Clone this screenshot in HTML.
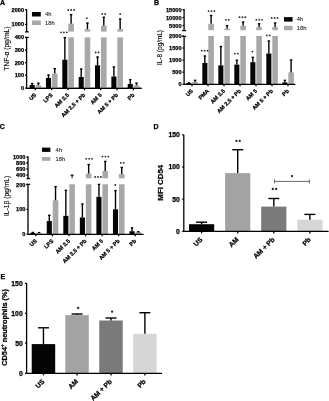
<!DOCTYPE html>
<html><head><meta charset="utf-8"><style>
html,body{margin:0;padding:0;background:#fff;}
svg{display:block;font-family:"Liberation Sans", sans-serif;filter:grayscale(100%);}
</style></head><body>
<svg width="329" height="401" viewBox="0 0 329 401" font-family='"Liberation Sans", sans-serif'>
<rect width="329" height="401" fill="#fff"/>
<text x="0" y="5.0" font-size="7" font-weight="bold" text-anchor="start" fill="#000" stroke="#000" stroke-width="0.25">A</text>
<text x="8.6" y="48.6" font-size="6.6" font-weight="normal" text-anchor="middle" fill="#000" transform="rotate(-90 8.6 48.6)" stroke="#000" stroke-width="0.12" textLength="44.2" lengthAdjust="spacingAndGlyphs">TNF-α (pg/mL)</text>
<line x1="26.6" y1="9.5" x2="26.6" y2="31.6" stroke="#000" stroke-width="1.3"/>
<line x1="26.6" y1="37.4" x2="26.6" y2="88.3" stroke="#000" stroke-width="1.3"/>
<line x1="25.0" y1="9.7" x2="26.6" y2="9.7" stroke="#000" stroke-width="1.3"/>
<text x="24.0" y="11.7" font-size="5.6" font-weight="bold" text-anchor="end" fill="#000" stroke="#000" stroke-width="0.25">2000</text>
<line x1="25.0" y1="24.3" x2="26.6" y2="24.3" stroke="#000" stroke-width="1.3"/>
<text x="24.0" y="26.3" font-size="5.6" font-weight="bold" text-anchor="end" fill="#000" stroke="#000" stroke-width="0.25">1000</text>
<line x1="25.0" y1="37.4" x2="26.6" y2="37.4" stroke="#000" stroke-width="1.3"/>
<text x="24.0" y="39.4" font-size="5.6" font-weight="bold" text-anchor="end" fill="#000" stroke="#000" stroke-width="0.25">400</text>
<line x1="25.0" y1="50.1" x2="26.6" y2="50.1" stroke="#000" stroke-width="1.3"/>
<text x="24.0" y="52.1" font-size="5.6" font-weight="bold" text-anchor="end" fill="#000" stroke="#000" stroke-width="0.25">300</text>
<line x1="25.0" y1="62.7" x2="26.6" y2="62.7" stroke="#000" stroke-width="1.3"/>
<text x="24.0" y="64.7" font-size="5.6" font-weight="bold" text-anchor="end" fill="#000" stroke="#000" stroke-width="0.25">200</text>
<line x1="25.0" y1="75.4" x2="26.6" y2="75.4" stroke="#000" stroke-width="1.3"/>
<text x="24.0" y="77.4" font-size="5.6" font-weight="bold" text-anchor="end" fill="#000" stroke="#000" stroke-width="0.25">100</text>
<line x1="25.0" y1="88.2" x2="26.6" y2="88.2" stroke="#000" stroke-width="1.3"/>
<text x="24.0" y="90.2" font-size="5.6" font-weight="bold" text-anchor="end" fill="#000" stroke="#000" stroke-width="0.25">0</text>
<path d="M24.90 32.50 L28.90 32.50 L28.20 31.00 L25.60 31.00 Z" fill="#000"/>
<line x1="24.900000000000002" y1="37.4" x2="28.900000000000002" y2="37.4" stroke="#000" stroke-width="1.1"/>
<line x1="26.6" y1="88.3" x2="141.6" y2="88.3" stroke="#000" stroke-width="1.3"/>
<rect x="32.00" y="12.00" width="8.80" height="4.50" fill="#050505"/>
<text x="45" y="16.2" font-size="5.8" font-weight="normal" text-anchor="start" fill="#222" stroke="#222" stroke-width="0.08">4h</text>
<rect x="32.00" y="20.50" width="8.80" height="4.50" fill="#a8a8a8"/>
<text x="45" y="24.9" font-size="5.8" font-weight="normal" text-anchor="start" fill="#222" stroke="#222" stroke-width="0.08">18h</text>
<rect x="29.60" y="85.00" width="5.10" height="3.30" fill="#050505"/>
<line x1="32.15" y1="85.0" x2="32.15" y2="83.3" stroke="#000" stroke-width="1.4"/>
<line x1="30.9" y1="83.6" x2="33.4" y2="83.6" stroke="#000" stroke-width="1.3"/>
<rect x="35.60" y="85.30" width="5.60" height="3.00" fill="#a8a8a8"/>
<line x1="38.39999999999999" y1="85.3" x2="38.39999999999999" y2="82.9" stroke="#000" stroke-width="1.4"/>
<line x1="37.14999999999999" y1="83.2" x2="39.64999999999999" y2="83.2" stroke="#000" stroke-width="1.3"/>
<rect x="45.95" y="78.00" width="5.10" height="10.30" fill="#050505"/>
<line x1="48.5" y1="78" x2="48.5" y2="74.7" stroke="#000" stroke-width="1.4"/>
<line x1="47.25" y1="75" x2="49.75" y2="75" stroke="#000" stroke-width="1.3"/>
<rect x="51.95" y="73.60" width="5.60" height="14.70" fill="#a8a8a8"/>
<line x1="54.75" y1="73.6" x2="54.75" y2="68.3" stroke="#000" stroke-width="1.4"/>
<line x1="53.5" y1="68.6" x2="56.0" y2="68.6" stroke="#000" stroke-width="1.3"/>
<rect x="62.30" y="59.70" width="5.10" height="28.60" fill="#050505"/>
<line x1="64.85" y1="59.7" x2="64.85" y2="37.300000000000004" stroke="#000" stroke-width="1.4"/>
<line x1="63.599999999999994" y1="37.6" x2="66.1" y2="37.6" stroke="#000" stroke-width="1.3"/>
<rect x="68.30" y="37.40" width="5.60" height="50.90" fill="#a8a8a8"/>
<rect x="68.30" y="23.70" width="5.60" height="7.90" fill="#a8a8a8"/>
<line x1="71.1" y1="23.7" x2="71.1" y2="14.299999999999999" stroke="#000" stroke-width="1.4"/>
<line x1="69.85" y1="14.6" x2="72.35" y2="14.6" stroke="#000" stroke-width="1.3"/>
<rect x="78.65" y="77.00" width="5.10" height="11.30" fill="#050505"/>
<line x1="81.19999999999999" y1="77" x2="81.19999999999999" y2="68.7" stroke="#000" stroke-width="1.4"/>
<line x1="79.94999999999999" y1="69" x2="82.44999999999999" y2="69" stroke="#000" stroke-width="1.3"/>
<rect x="84.65" y="37.40" width="5.60" height="50.90" fill="#a8a8a8"/>
<rect x="84.65" y="29.20" width="5.60" height="2.40" fill="#a8a8a8"/>
<line x1="87.44999999999999" y1="29.2" x2="87.44999999999999" y2="22.8" stroke="#000" stroke-width="1.4"/>
<line x1="86.19999999999999" y1="23.1" x2="88.69999999999999" y2="23.1" stroke="#000" stroke-width="1.3"/>
<rect x="95.00" y="65.30" width="5.10" height="23.00" fill="#050505"/>
<line x1="97.55000000000001" y1="65.3" x2="97.55000000000001" y2="56.7" stroke="#000" stroke-width="1.4"/>
<line x1="96.30000000000001" y1="57" x2="98.80000000000001" y2="57" stroke="#000" stroke-width="1.3"/>
<rect x="101.00" y="37.40" width="5.60" height="50.90" fill="#a8a8a8"/>
<rect x="101.00" y="25.70" width="5.60" height="5.90" fill="#a8a8a8"/>
<line x1="103.80000000000001" y1="25.7" x2="103.80000000000001" y2="16.9" stroke="#000" stroke-width="1.4"/>
<line x1="102.55000000000001" y1="17.2" x2="105.05000000000001" y2="17.2" stroke="#000" stroke-width="1.3"/>
<rect x="111.35" y="76.50" width="5.10" height="11.80" fill="#050505"/>
<line x1="113.9" y1="76.5" x2="113.9" y2="66.7" stroke="#000" stroke-width="1.4"/>
<line x1="112.65" y1="67" x2="115.15" y2="67" stroke="#000" stroke-width="1.3"/>
<rect x="117.35" y="37.40" width="5.60" height="50.90" fill="#a8a8a8"/>
<rect x="117.35" y="29.10" width="5.60" height="2.50" fill="#a8a8a8"/>
<line x1="120.15" y1="29.1" x2="120.15" y2="18.7" stroke="#000" stroke-width="1.4"/>
<line x1="118.9" y1="19" x2="121.4" y2="19" stroke="#000" stroke-width="1.3"/>
<rect x="127.70" y="84.00" width="5.10" height="4.30" fill="#050505"/>
<line x1="130.25" y1="84.0" x2="130.25" y2="79.3" stroke="#000" stroke-width="1.4"/>
<line x1="129.0" y1="79.6" x2="131.5" y2="79.6" stroke="#000" stroke-width="1.3"/>
<rect x="133.70" y="85.20" width="5.60" height="3.10" fill="#a8a8a8"/>
<line x1="136.5" y1="85.2" x2="136.5" y2="82.8" stroke="#000" stroke-width="1.4"/>
<line x1="135.25" y1="83.1" x2="137.75" y2="83.1" stroke="#000" stroke-width="1.3"/>
<line x1="26.6" y1="88.3" x2="141.6" y2="88.3" stroke="#000" stroke-width="1.3"/>
<line x1="35.3" y1="88.3" x2="35.3" y2="90.3" stroke="#000" stroke-width="1.3"/>
<line x1="51.65" y1="88.3" x2="51.65" y2="90.3" stroke="#000" stroke-width="1.3"/>
<line x1="68.0" y1="88.3" x2="68.0" y2="90.3" stroke="#000" stroke-width="1.3"/>
<line x1="84.35" y1="88.3" x2="84.35" y2="90.3" stroke="#000" stroke-width="1.3"/>
<line x1="100.7" y1="88.3" x2="100.7" y2="90.3" stroke="#000" stroke-width="1.3"/>
<line x1="117.05" y1="88.3" x2="117.05" y2="90.3" stroke="#000" stroke-width="1.3"/>
<line x1="133.4" y1="88.3" x2="133.4" y2="90.3" stroke="#000" stroke-width="1.3"/>
<text x="36.7" y="95.4" font-size="5.55" font-weight="bold" text-anchor="end" fill="#000" transform="rotate(-45 36.7 95.4)" stroke="#000" stroke-width="0.25">US</text>
<text x="53.05" y="95.4" font-size="5.55" font-weight="bold" text-anchor="end" fill="#000" transform="rotate(-45 53.05 95.4)" stroke="#000" stroke-width="0.25">LPS</text>
<text x="69.4" y="95.4" font-size="5.55" font-weight="bold" text-anchor="end" fill="#000" transform="rotate(-45 69.4 95.4)" stroke="#000" stroke-width="0.25">AM 2.5</text>
<text x="85.75" y="95.4" font-size="5.55" font-weight="bold" text-anchor="end" fill="#000" transform="rotate(-45 85.75 95.4)" stroke="#000" stroke-width="0.25">AM 2.5 + Pb</text>
<text x="102.1" y="95.4" font-size="5.55" font-weight="bold" text-anchor="end" fill="#000" transform="rotate(-45 102.1 95.4)" stroke="#000" stroke-width="0.25">AM 5</text>
<text x="118.45" y="95.4" font-size="5.55" font-weight="bold" text-anchor="end" fill="#000" transform="rotate(-45 118.45 95.4)" stroke="#000" stroke-width="0.25">AM 5 + Pb</text>
<text x="134.8" y="95.4" font-size="5.55" font-weight="bold" text-anchor="end" fill="#000" transform="rotate(-45 134.8 95.4)" stroke="#000" stroke-width="0.25">Pb</text>
<circle cx="61.00" cy="32.30" r="0.9" fill="#222"/>
<circle cx="63.90" cy="32.30" r="0.9" fill="#222"/>
<circle cx="66.80" cy="32.30" r="0.9" fill="#222"/>
<circle cx="68.30" cy="10.00" r="0.9" fill="#222"/>
<circle cx="71.20" cy="10.00" r="0.9" fill="#222"/>
<circle cx="74.10" cy="10.00" r="0.9" fill="#222"/>
<circle cx="86.90" cy="18.10" r="0.9" fill="#222"/>
<circle cx="95.65" cy="52.40" r="0.9" fill="#222"/>
<circle cx="98.55" cy="52.40" r="0.9" fill="#222"/>
<circle cx="102.25" cy="13.90" r="0.9" fill="#222"/>
<circle cx="105.15" cy="13.90" r="0.9" fill="#222"/>
<circle cx="120.20" cy="13.90" r="0.9" fill="#222"/>
<text x="154" y="5.1" font-size="7" font-weight="bold" text-anchor="start" fill="#000" stroke="#000" stroke-width="0.25">B</text>
<text x="161.6" y="47.5" font-size="6.4" font-weight="normal" text-anchor="middle" fill="#000" transform="rotate(-90 161.6 47.5)" stroke="#000" stroke-width="0.12" textLength="35" lengthAdjust="spacingAndGlyphs">IL-8 (pg/mL)</text>
<line x1="184.1" y1="9.1" x2="184.1" y2="30.6" stroke="#000" stroke-width="1.3"/>
<line x1="184.1" y1="36.4" x2="184.1" y2="84.3" stroke="#000" stroke-width="1.3"/>
<line x1="182.5" y1="9.7" x2="184.1" y2="9.7" stroke="#000" stroke-width="1.3"/>
<text x="181.5" y="11.7" font-size="5.6" font-weight="bold" text-anchor="end" fill="#000" stroke="#000" stroke-width="0.25">15000</text>
<line x1="182.5" y1="17.6" x2="184.1" y2="17.6" stroke="#000" stroke-width="1.3"/>
<text x="181.5" y="19.6" font-size="5.6" font-weight="bold" text-anchor="end" fill="#000" stroke="#000" stroke-width="0.25">10000</text>
<line x1="182.5" y1="25.5" x2="184.1" y2="25.5" stroke="#000" stroke-width="1.3"/>
<text x="181.5" y="27.5" font-size="5.6" font-weight="bold" text-anchor="end" fill="#000" stroke="#000" stroke-width="0.25">5000</text>
<line x1="182.5" y1="36" x2="184.1" y2="36" stroke="#000" stroke-width="1.3"/>
<text x="181.5" y="38.0" font-size="5.6" font-weight="bold" text-anchor="end" fill="#000" stroke="#000" stroke-width="0.25">2000</text>
<line x1="182.5" y1="48" x2="184.1" y2="48" stroke="#000" stroke-width="1.3"/>
<text x="181.5" y="50.0" font-size="5.6" font-weight="bold" text-anchor="end" fill="#000" stroke="#000" stroke-width="0.25">1500</text>
<line x1="182.5" y1="60.1" x2="184.1" y2="60.1" stroke="#000" stroke-width="1.3"/>
<text x="181.5" y="62.1" font-size="5.6" font-weight="bold" text-anchor="end" fill="#000" stroke="#000" stroke-width="0.25">1000</text>
<line x1="182.5" y1="72.2" x2="184.1" y2="72.2" stroke="#000" stroke-width="1.3"/>
<text x="181.5" y="74.2" font-size="5.6" font-weight="bold" text-anchor="end" fill="#000" stroke="#000" stroke-width="0.25">500</text>
<line x1="182.5" y1="84.3" x2="184.1" y2="84.3" stroke="#000" stroke-width="1.3"/>
<text x="181.5" y="86.3" font-size="5.6" font-weight="bold" text-anchor="end" fill="#000" stroke="#000" stroke-width="0.25">0</text>
<line x1="182.1" y1="30.6" x2="186.1" y2="30.6" stroke="#000" stroke-width="1.2"/>
<line x1="182.1" y1="36.4" x2="186.1" y2="36.4" stroke="#000" stroke-width="1.2"/>
<rect x="284.00" y="17.10" width="8.60" height="4.50" fill="#050505"/>
<text x="296.8" y="20.9" font-size="5.8" font-weight="normal" text-anchor="start" fill="#222" stroke="#222" stroke-width="0.08">4h</text>
<rect x="284.00" y="25.80" width="8.60" height="4.50" fill="#a8a8a8"/>
<text x="296.8" y="29.7" font-size="5.8" font-weight="normal" text-anchor="start" fill="#222" stroke="#222" stroke-width="0.08">18h</text>
<rect x="186.30" y="83.10" width="5.10" height="1.20" fill="#050505"/>
<line x1="188.85000000000002" y1="83.1" x2="188.85000000000002" y2="82.60000000000001" stroke="#000" stroke-width="1.4"/>
<line x1="187.60000000000002" y1="82.9" x2="190.10000000000002" y2="82.9" stroke="#000" stroke-width="1.3"/>
<rect x="192.30" y="82.00" width="5.60" height="2.30" fill="#a8a8a8"/>
<line x1="195.10000000000002" y1="82.0" x2="195.10000000000002" y2="80.0" stroke="#000" stroke-width="1.4"/>
<line x1="193.85000000000002" y1="80.3" x2="196.35000000000002" y2="80.3" stroke="#000" stroke-width="1.3"/>
<rect x="202.30" y="63.00" width="5.10" height="21.30" fill="#050505"/>
<line x1="204.85000000000002" y1="63" x2="204.85000000000002" y2="55.7" stroke="#000" stroke-width="1.4"/>
<line x1="203.60000000000002" y1="56" x2="206.10000000000002" y2="56" stroke="#000" stroke-width="1.3"/>
<rect x="208.30" y="35.90" width="5.60" height="48.40" fill="#a8a8a8"/>
<rect x="208.30" y="23.80" width="5.60" height="6.40" fill="#a8a8a8"/>
<line x1="211.10000000000002" y1="23.8" x2="211.10000000000002" y2="15.2" stroke="#000" stroke-width="1.4"/>
<line x1="209.85000000000002" y1="15.5" x2="212.35000000000002" y2="15.5" stroke="#000" stroke-width="1.3"/>
<rect x="218.30" y="65.40" width="5.10" height="18.90" fill="#050505"/>
<line x1="220.85000000000002" y1="65.4" x2="220.85000000000002" y2="46.2" stroke="#000" stroke-width="1.4"/>
<line x1="219.60000000000002" y1="46.5" x2="222.10000000000002" y2="46.5" stroke="#000" stroke-width="1.3"/>
<rect x="224.30" y="35.90" width="5.60" height="48.40" fill="#a8a8a8"/>
<rect x="224.30" y="28.50" width="5.60" height="1.70" fill="#a8a8a8"/>
<line x1="227.10000000000002" y1="28.5" x2="227.10000000000002" y2="25.3" stroke="#000" stroke-width="1.4"/>
<line x1="225.85000000000002" y1="25.6" x2="228.35000000000002" y2="25.6" stroke="#000" stroke-width="1.3"/>
<rect x="234.30" y="64.60" width="5.10" height="19.70" fill="#050505"/>
<line x1="236.85000000000002" y1="64.6" x2="236.85000000000002" y2="59.900000000000006" stroke="#000" stroke-width="1.4"/>
<line x1="235.60000000000002" y1="60.2" x2="238.10000000000002" y2="60.2" stroke="#000" stroke-width="1.3"/>
<rect x="240.30" y="35.90" width="5.60" height="48.40" fill="#a8a8a8"/>
<rect x="240.30" y="25.80" width="5.60" height="4.40" fill="#a8a8a8"/>
<line x1="243.10000000000002" y1="25.8" x2="243.10000000000002" y2="21.7" stroke="#000" stroke-width="1.4"/>
<line x1="241.85000000000002" y1="22" x2="244.35000000000002" y2="22" stroke="#000" stroke-width="1.3"/>
<rect x="250.30" y="62.20" width="5.10" height="22.10" fill="#050505"/>
<line x1="252.85000000000002" y1="62.2" x2="252.85000000000002" y2="57.0" stroke="#000" stroke-width="1.4"/>
<line x1="251.60000000000002" y1="57.3" x2="254.10000000000002" y2="57.3" stroke="#000" stroke-width="1.3"/>
<rect x="256.30" y="35.90" width="5.60" height="48.40" fill="#a8a8a8"/>
<rect x="256.30" y="27.00" width="5.60" height="3.20" fill="#a8a8a8"/>
<line x1="259.1" y1="27" x2="259.1" y2="23.5" stroke="#000" stroke-width="1.4"/>
<line x1="257.85" y1="23.8" x2="260.35" y2="23.8" stroke="#000" stroke-width="1.3"/>
<rect x="266.30" y="53.50" width="5.10" height="30.80" fill="#050505"/>
<line x1="268.85" y1="53.5" x2="268.85" y2="40.7" stroke="#000" stroke-width="1.4"/>
<line x1="267.6" y1="41" x2="270.1" y2="41" stroke="#000" stroke-width="1.3"/>
<rect x="272.30" y="35.90" width="5.60" height="48.40" fill="#a8a8a8"/>
<rect x="272.30" y="27.00" width="5.60" height="3.20" fill="#a8a8a8"/>
<line x1="275.1" y1="27" x2="275.1" y2="22.7" stroke="#000" stroke-width="1.4"/>
<line x1="273.85" y1="23" x2="276.35" y2="23" stroke="#000" stroke-width="1.3"/>
<rect x="282.30" y="82.40" width="5.10" height="1.90" fill="#050505"/>
<line x1="284.85" y1="82.4" x2="284.85" y2="80.0" stroke="#000" stroke-width="1.4"/>
<line x1="283.6" y1="80.3" x2="286.1" y2="80.3" stroke="#000" stroke-width="1.3"/>
<rect x="288.30" y="72.40" width="5.60" height="11.90" fill="#a8a8a8"/>
<line x1="291.1" y1="72.4" x2="291.1" y2="59.7" stroke="#000" stroke-width="1.4"/>
<line x1="289.85" y1="60" x2="292.35" y2="60" stroke="#000" stroke-width="1.3"/>
<line x1="184.1" y1="84.3" x2="295.4" y2="84.3" stroke="#000" stroke-width="1.3"/>
<line x1="192" y1="84.3" x2="192" y2="86.3" stroke="#000" stroke-width="1.3"/>
<line x1="208" y1="84.3" x2="208" y2="86.3" stroke="#000" stroke-width="1.3"/>
<line x1="224" y1="84.3" x2="224" y2="86.3" stroke="#000" stroke-width="1.3"/>
<line x1="240" y1="84.3" x2="240" y2="86.3" stroke="#000" stroke-width="1.3"/>
<line x1="256" y1="84.3" x2="256" y2="86.3" stroke="#000" stroke-width="1.3"/>
<line x1="272" y1="84.3" x2="272" y2="86.3" stroke="#000" stroke-width="1.3"/>
<line x1="288" y1="84.3" x2="288" y2="86.3" stroke="#000" stroke-width="1.3"/>
<text x="193.4" y="91.4" font-size="5.55" font-weight="bold" text-anchor="end" fill="#000" transform="rotate(-45 193.4 91.4)" stroke="#000" stroke-width="0.25">US</text>
<text x="209.4" y="91.4" font-size="5.55" font-weight="bold" text-anchor="end" fill="#000" transform="rotate(-45 209.4 91.4)" stroke="#000" stroke-width="0.25">PMA</text>
<text x="225.4" y="91.4" font-size="5.55" font-weight="bold" text-anchor="end" fill="#000" transform="rotate(-45 225.4 91.4)" stroke="#000" stroke-width="0.25">AM 2.5</text>
<text x="241.4" y="91.4" font-size="5.55" font-weight="bold" text-anchor="end" fill="#000" transform="rotate(-45 241.4 91.4)" stroke="#000" stroke-width="0.25">AM 2.5 + Pb</text>
<text x="257.4" y="91.4" font-size="5.55" font-weight="bold" text-anchor="end" fill="#000" transform="rotate(-45 257.4 91.4)" stroke="#000" stroke-width="0.25">AM 5</text>
<text x="273.4" y="91.4" font-size="5.55" font-weight="bold" text-anchor="end" fill="#000" transform="rotate(-45 273.4 91.4)" stroke="#000" stroke-width="0.25">AM 5 + Pb</text>
<text x="289.4" y="91.4" font-size="5.55" font-weight="bold" text-anchor="end" fill="#000" transform="rotate(-45 289.4 91.4)" stroke="#000" stroke-width="0.25">Pb</text>
<circle cx="201.70" cy="50.70" r="0.9" fill="#222"/>
<circle cx="204.60" cy="50.70" r="0.9" fill="#222"/>
<circle cx="207.50" cy="50.70" r="0.9" fill="#222"/>
<circle cx="208.60" cy="11.10" r="0.9" fill="#222"/>
<circle cx="211.50" cy="11.10" r="0.9" fill="#222"/>
<circle cx="214.40" cy="11.10" r="0.9" fill="#222"/>
<circle cx="225.85" cy="19.80" r="0.9" fill="#222"/>
<circle cx="228.75" cy="19.80" r="0.9" fill="#222"/>
<circle cx="234.95" cy="53.60" r="0.9" fill="#222"/>
<circle cx="237.85" cy="53.60" r="0.9" fill="#222"/>
<circle cx="239.50" cy="17.20" r="0.9" fill="#222"/>
<circle cx="242.40" cy="17.20" r="0.9" fill="#222"/>
<circle cx="245.30" cy="17.20" r="0.9" fill="#222"/>
<circle cx="252.40" cy="51.60" r="0.9" fill="#222"/>
<circle cx="256.30" cy="19.80" r="0.9" fill="#222"/>
<circle cx="259.20" cy="19.80" r="0.9" fill="#222"/>
<circle cx="262.10" cy="19.80" r="0.9" fill="#222"/>
<circle cx="266.85" cy="35.40" r="0.9" fill="#222"/>
<circle cx="269.75" cy="35.40" r="0.9" fill="#222"/>
<circle cx="271.70" cy="17.90" r="0.9" fill="#222"/>
<circle cx="274.60" cy="17.90" r="0.9" fill="#222"/>
<circle cx="277.50" cy="17.90" r="0.9" fill="#222"/>
<text x="-0.2" y="129.1" font-size="7" font-weight="bold" text-anchor="start" fill="#000" stroke="#000" stroke-width="0.25">C</text>
<text x="9.2" y="195.9" font-size="6.5" font-weight="normal" text-anchor="middle" fill="#000" transform="rotate(-90 9.2 195.9)" stroke="#000" stroke-width="0.12" textLength="40.2" lengthAdjust="spacingAndGlyphs">IL-1β (pg/mL)</text>
<line x1="28.0" y1="156.2" x2="28.0" y2="178.3" stroke="#000" stroke-width="1.3"/>
<line x1="28.0" y1="184.3" x2="28.0" y2="234.3" stroke="#000" stroke-width="1.3"/>
<line x1="26.4" y1="157.1" x2="28.0" y2="157.1" stroke="#000" stroke-width="1.3"/>
<text x="25.4" y="159.1" font-size="5.6" font-weight="bold" text-anchor="end" fill="#000" stroke="#000" stroke-width="0.25">1000</text>
<line x1="26.4" y1="163" x2="28.0" y2="163" stroke="#000" stroke-width="1.3"/>
<text x="25.4" y="165.0" font-size="5.6" font-weight="bold" text-anchor="end" fill="#000" stroke="#000" stroke-width="0.25">800</text>
<line x1="26.4" y1="168.8" x2="28.0" y2="168.8" stroke="#000" stroke-width="1.3"/>
<text x="25.4" y="170.8" font-size="5.6" font-weight="bold" text-anchor="end" fill="#000" stroke="#000" stroke-width="0.25">600</text>
<line x1="26.4" y1="175.2" x2="28.0" y2="175.2" stroke="#000" stroke-width="1.3"/>
<text x="25.4" y="177.2" font-size="5.6" font-weight="bold" text-anchor="end" fill="#000" stroke="#000" stroke-width="0.25">400</text>
<line x1="26.4" y1="184.5" x2="28.0" y2="184.5" stroke="#000" stroke-width="1.3"/>
<text x="25.4" y="186.5" font-size="5.6" font-weight="bold" text-anchor="end" fill="#000" stroke="#000" stroke-width="0.25">200</text>
<line x1="26.4" y1="209.4" x2="28.0" y2="209.4" stroke="#000" stroke-width="1.3"/>
<text x="25.4" y="211.4" font-size="5.6" font-weight="bold" text-anchor="end" fill="#000" stroke="#000" stroke-width="0.25">100</text>
<line x1="26.4" y1="234.2" x2="28.0" y2="234.2" stroke="#000" stroke-width="1.3"/>
<text x="25.4" y="236.2" font-size="5.6" font-weight="bold" text-anchor="end" fill="#000" stroke="#000" stroke-width="0.25">0</text>
<path d="M26.30 179.20 L30.30 179.20 L29.60 177.70 L27.00 177.70 Z" fill="#000"/>
<line x1="26.3" y1="184.3" x2="30.3" y2="184.3" stroke="#000" stroke-width="1.1"/>
<rect x="42.00" y="147.60" width="8.40" height="4.30" fill="#050505"/>
<text x="55.6" y="151.6" font-size="5.8" font-weight="normal" text-anchor="start" fill="#222" stroke="#222" stroke-width="0.08">4h</text>
<rect x="42.00" y="157.00" width="8.40" height="3.80" fill="#a8a8a8"/>
<text x="55.6" y="160.8" font-size="5.8" font-weight="normal" text-anchor="start" fill="#222" stroke="#222" stroke-width="0.08">18h</text>
<rect x="30.20" y="232.90" width="5.10" height="1.40" fill="#050505"/>
<line x1="32.75" y1="232.9" x2="32.75" y2="232.1" stroke="#000" stroke-width="1.4"/>
<line x1="31.5" y1="232.4" x2="34.0" y2="232.4" stroke="#000" stroke-width="1.3"/>
<rect x="36.20" y="233.10" width="5.60" height="1.20" fill="#a8a8a8"/>
<line x1="39.0" y1="233.1" x2="39.0" y2="232.29999999999998" stroke="#000" stroke-width="1.4"/>
<line x1="37.75" y1="232.6" x2="40.25" y2="232.6" stroke="#000" stroke-width="1.3"/>
<rect x="46.75" y="221.00" width="5.10" height="13.30" fill="#050505"/>
<line x1="49.3" y1="221" x2="49.3" y2="215.0" stroke="#000" stroke-width="1.4"/>
<line x1="48.05" y1="215.3" x2="50.55" y2="215.3" stroke="#000" stroke-width="1.3"/>
<rect x="52.75" y="200.30" width="5.60" height="34.00" fill="#a8a8a8"/>
<line x1="55.55" y1="200.3" x2="55.55" y2="186.39999999999998" stroke="#000" stroke-width="1.4"/>
<line x1="54.3" y1="186.7" x2="56.8" y2="186.7" stroke="#000" stroke-width="1.3"/>
<rect x="63.30" y="215.80" width="5.10" height="18.50" fill="#050505"/>
<line x1="65.85" y1="215.8" x2="65.85" y2="190.0" stroke="#000" stroke-width="1.4"/>
<line x1="64.6" y1="190.3" x2="67.1" y2="190.3" stroke="#000" stroke-width="1.3"/>
<rect x="69.30" y="184.30" width="5.60" height="50.00" fill="#a8a8a8"/>
<line x1="72.1" y1="178.3" x2="72.1" y2="175.2" stroke="#000" stroke-width="1.0"/>
<line x1="70.6" y1="175.2" x2="73.6" y2="175.2" stroke="#000" stroke-width="1.2"/>
<rect x="79.85" y="217.50" width="5.10" height="16.80" fill="#050505"/>
<line x1="82.4" y1="217.5" x2="82.4" y2="203.7" stroke="#000" stroke-width="1.4"/>
<line x1="81.15" y1="204" x2="83.65" y2="204" stroke="#000" stroke-width="1.3"/>
<rect x="85.85" y="184.30" width="5.60" height="50.00" fill="#a8a8a8"/>
<rect x="85.85" y="173.60" width="5.60" height="4.70" fill="#a8a8a8"/>
<line x1="88.65" y1="173.6" x2="88.65" y2="164.2" stroke="#000" stroke-width="1.4"/>
<line x1="87.4" y1="164.5" x2="89.9" y2="164.5" stroke="#000" stroke-width="1.3"/>
<rect x="96.40" y="196.80" width="5.10" height="37.50" fill="#050505"/>
<line x1="98.94999999999999" y1="196.8" x2="98.94999999999999" y2="184.1" stroke="#000" stroke-width="1.4"/>
<line x1="97.69999999999999" y1="184.4" x2="100.19999999999999" y2="184.4" stroke="#000" stroke-width="1.3"/>
<rect x="102.40" y="184.30" width="5.60" height="50.00" fill="#a8a8a8"/>
<rect x="102.40" y="171.00" width="5.60" height="7.30" fill="#a8a8a8"/>
<line x1="105.19999999999999" y1="171" x2="105.19999999999999" y2="161.1" stroke="#000" stroke-width="1.4"/>
<line x1="103.94999999999999" y1="161.4" x2="106.44999999999999" y2="161.4" stroke="#000" stroke-width="1.3"/>
<rect x="112.95" y="209.30" width="5.10" height="25.00" fill="#050505"/>
<line x1="115.5" y1="209.3" x2="115.5" y2="190.29999999999998" stroke="#000" stroke-width="1.4"/>
<line x1="114.25" y1="190.6" x2="116.75" y2="190.6" stroke="#000" stroke-width="1.3"/>
<rect x="118.95" y="184.30" width="5.60" height="50.00" fill="#a8a8a8"/>
<rect x="118.95" y="174.10" width="5.60" height="4.20" fill="#a8a8a8"/>
<line x1="121.75" y1="174.1" x2="121.75" y2="167.1" stroke="#000" stroke-width="1.4"/>
<line x1="120.5" y1="167.4" x2="123.0" y2="167.4" stroke="#000" stroke-width="1.3"/>
<rect x="129.50" y="231.20" width="5.10" height="3.10" fill="#050505"/>
<line x1="132.05" y1="231.2" x2="132.05" y2="227.6" stroke="#000" stroke-width="1.4"/>
<line x1="130.8" y1="227.9" x2="133.3" y2="227.9" stroke="#000" stroke-width="1.3"/>
<rect x="135.50" y="232.00" width="5.60" height="2.30" fill="#a8a8a8"/>
<line x1="138.3" y1="232.0" x2="138.3" y2="231.39999999999998" stroke="#000" stroke-width="1.4"/>
<line x1="137.05" y1="231.7" x2="139.55" y2="231.7" stroke="#000" stroke-width="1.3"/>
<line x1="28.0" y1="234.3" x2="143.6" y2="234.3" stroke="#000" stroke-width="1.3"/>
<line x1="35.9" y1="234.3" x2="35.9" y2="236.3" stroke="#000" stroke-width="1.3"/>
<line x1="52.45" y1="234.3" x2="52.45" y2="236.3" stroke="#000" stroke-width="1.3"/>
<line x1="69.0" y1="234.3" x2="69.0" y2="236.3" stroke="#000" stroke-width="1.3"/>
<line x1="85.55000000000001" y1="234.3" x2="85.55000000000001" y2="236.3" stroke="#000" stroke-width="1.3"/>
<line x1="102.1" y1="234.3" x2="102.1" y2="236.3" stroke="#000" stroke-width="1.3"/>
<line x1="118.65" y1="234.3" x2="118.65" y2="236.3" stroke="#000" stroke-width="1.3"/>
<line x1="135.20000000000002" y1="234.3" x2="135.20000000000002" y2="236.3" stroke="#000" stroke-width="1.3"/>
<text x="37.3" y="241.4" font-size="5.55" font-weight="bold" text-anchor="end" fill="#000" transform="rotate(-45 37.3 241.4)" stroke="#000" stroke-width="0.25">US</text>
<text x="53.85" y="241.4" font-size="5.55" font-weight="bold" text-anchor="end" fill="#000" transform="rotate(-45 53.85 241.4)" stroke="#000" stroke-width="0.25">LPS</text>
<text x="70.4" y="241.4" font-size="5.55" font-weight="bold" text-anchor="end" fill="#000" transform="rotate(-45 70.4 241.4)" stroke="#000" stroke-width="0.25">AM 2.5</text>
<text x="86.95" y="241.4" font-size="5.55" font-weight="bold" text-anchor="end" fill="#000" transform="rotate(-45 86.95 241.4)" stroke="#000" stroke-width="0.25">AM 2.5 + Pb</text>
<text x="103.5" y="241.4" font-size="5.55" font-weight="bold" text-anchor="end" fill="#000" transform="rotate(-45 103.5 241.4)" stroke="#000" stroke-width="0.25">AM 5</text>
<text x="120.05" y="241.4" font-size="5.55" font-weight="bold" text-anchor="end" fill="#000" transform="rotate(-45 120.05 241.4)" stroke="#000" stroke-width="0.25">AM 5 + Pb</text>
<text x="136.6" y="241.4" font-size="5.55" font-weight="bold" text-anchor="end" fill="#000" transform="rotate(-45 136.6 241.4)" stroke="#000" stroke-width="0.25">Pb</text>
<circle cx="86.20" cy="158.80" r="0.9" fill="#222"/>
<circle cx="89.10" cy="158.80" r="0.9" fill="#222"/>
<circle cx="92.00" cy="158.80" r="0.9" fill="#222"/>
<circle cx="95.10" cy="177.00" r="0.9" fill="#222"/>
<circle cx="98.00" cy="177.00" r="0.9" fill="#222"/>
<circle cx="100.90" cy="177.00" r="0.9" fill="#222"/>
<circle cx="102.50" cy="156.60" r="0.9" fill="#222"/>
<circle cx="105.40" cy="156.60" r="0.9" fill="#222"/>
<circle cx="108.30" cy="156.60" r="0.9" fill="#222"/>
<circle cx="115.30" cy="185.00" r="0.9" fill="#222"/>
<circle cx="120.75" cy="162.80" r="0.9" fill="#222"/>
<circle cx="123.65" cy="162.80" r="0.9" fill="#222"/>
<text x="153.6" y="129.1" font-size="7" font-weight="bold" text-anchor="start" fill="#000" stroke="#000" stroke-width="0.25">D</text>
<text x="163.1" y="182.7" font-size="7.8" font-weight="bold" text-anchor="middle" fill="#000" transform="rotate(-90 163.1 182.7)" textLength="35.9" lengthAdjust="spacingAndGlyphs" stroke="#000" stroke-width="0.25">MFI CD54</text>
<line x1="183.8" y1="134.8" x2="183.8" y2="231.4" stroke="#000" stroke-width="1.3"/>
<line x1="182.20000000000002" y1="134.8" x2="183.8" y2="134.8" stroke="#000" stroke-width="1.3"/>
<text x="179.9" y="137.20000000000002" font-size="6.8" font-weight="bold" text-anchor="end" fill="#000" stroke="#000" stroke-width="0.25">150</text>
<line x1="182.20000000000002" y1="167.0" x2="183.8" y2="167.0" stroke="#000" stroke-width="1.3"/>
<text x="179.9" y="169.4" font-size="6.8" font-weight="bold" text-anchor="end" fill="#000" stroke="#000" stroke-width="0.25">100</text>
<line x1="182.20000000000002" y1="199.2" x2="183.8" y2="199.2" stroke="#000" stroke-width="1.3"/>
<text x="179.9" y="201.6" font-size="6.8" font-weight="bold" text-anchor="end" fill="#000" stroke="#000" stroke-width="0.25">50</text>
<line x1="182.20000000000002" y1="231.4" x2="183.8" y2="231.4" stroke="#000" stroke-width="1.3"/>
<text x="179.9" y="233.8" font-size="6.8" font-weight="bold" text-anchor="end" fill="#000" stroke="#000" stroke-width="0.25">0</text>
<rect x="189.00" y="224.20" width="25.20" height="7.20" fill="#050505"/>
<line x1="201.6" y1="224.2" x2="201.6" y2="222.2" stroke="#000" stroke-width="1.4"/>
<line x1="196.1" y1="222.2" x2="207.1" y2="222.2" stroke="#000" stroke-width="1.4"/>
<rect x="225.10" y="173.10" width="25.20" height="58.30" fill="#a3a3a3"/>
<line x1="237.7" y1="173.1" x2="237.7" y2="149.7" stroke="#000" stroke-width="1.4"/>
<line x1="232.2" y1="149.7" x2="243.2" y2="149.7" stroke="#000" stroke-width="1.4"/>
<rect x="261.20" y="206.60" width="25.20" height="24.80" fill="#7a7a7a"/>
<line x1="273.8" y1="206.6" x2="273.8" y2="198.5" stroke="#000" stroke-width="1.4"/>
<line x1="268.3" y1="198.5" x2="279.3" y2="198.5" stroke="#000" stroke-width="1.4"/>
<rect x="297.30" y="219.70" width="25.20" height="11.70" fill="#d6d6d6"/>
<line x1="309.9" y1="219.7" x2="309.9" y2="214.4" stroke="#000" stroke-width="1.4"/>
<line x1="304.4" y1="214.4" x2="315.4" y2="214.4" stroke="#000" stroke-width="1.4"/>
<line x1="183.8" y1="231.4" x2="328.6" y2="231.4" stroke="#000" stroke-width="1.3"/>
<line x1="201.6" y1="231.4" x2="201.6" y2="233.4" stroke="#000" stroke-width="1.3"/>
<line x1="237.7" y1="231.4" x2="237.7" y2="233.4" stroke="#000" stroke-width="1.3"/>
<line x1="273.8" y1="231.4" x2="273.8" y2="233.4" stroke="#000" stroke-width="1.3"/>
<line x1="309.9" y1="231.4" x2="309.9" y2="233.4" stroke="#000" stroke-width="1.3"/>
<text x="203.0" y="240.0" font-size="6.8" font-weight="bold" text-anchor="end" fill="#000" transform="rotate(-45 203.0 240.0)" stroke="#000" stroke-width="0.25">US</text>
<text x="239.1" y="240.0" font-size="6.8" font-weight="bold" text-anchor="end" fill="#000" transform="rotate(-45 239.1 240.0)" stroke="#000" stroke-width="0.25">AM</text>
<text x="275.2" y="240.0" font-size="6.8" font-weight="bold" text-anchor="end" fill="#000" transform="rotate(-45 275.2 240.0)" stroke="#000" stroke-width="0.25">AM + Pb</text>
<text x="311.3" y="240.0" font-size="6.8" font-weight="bold" text-anchor="end" fill="#000" transform="rotate(-45 311.3 240.0)" stroke="#000" stroke-width="0.25">Pb</text>
<circle cx="236.40" cy="140.90" r="1.15" fill="#222"/>
<circle cx="239.70" cy="140.90" r="1.15" fill="#222"/>
<circle cx="272.80" cy="189.00" r="1.15" fill="#222"/>
<circle cx="276.20" cy="189.00" r="1.15" fill="#222"/>
<circle cx="292.00" cy="176.10" r="1.15" fill="#222"/>
<line x1="274.5" y1="181.4" x2="309.4" y2="181.4" stroke="#666" stroke-width="1.0"/>
<line x1="274.5" y1="179.4" x2="274.5" y2="183.4" stroke="#666" stroke-width="1.0"/>
<line x1="309.4" y1="179.4" x2="309.4" y2="183.4" stroke="#666" stroke-width="1.0"/>
<text x="0.6" y="278.7" font-size="7" font-weight="bold" text-anchor="start" fill="#000" stroke="#000" stroke-width="0.25">E</text>
<text x="6.9" y="327.4" font-size="7.3" font-weight="bold" text-anchor="middle" fill="#000" transform="rotate(-90 6.9 327.4)" textLength="76.6" lengthAdjust="spacingAndGlyphs" stroke="#000" stroke-width="0.25">CD54<tspan font-size="4.5" dy="-2.8">+</tspan><tspan dy="2.8"> neutrophils (%)</tspan></text>
<line x1="26.6" y1="283.0" x2="26.6" y2="373.4" stroke="#000" stroke-width="1.3"/>
<line x1="25.0" y1="283.3" x2="26.6" y2="283.3" stroke="#000" stroke-width="1.3"/>
<text x="22.700000000000003" y="285.7" font-size="6.8" font-weight="bold" text-anchor="end" fill="#000" stroke="#000" stroke-width="0.25">150</text>
<line x1="25.0" y1="313.3" x2="26.6" y2="313.3" stroke="#000" stroke-width="1.3"/>
<text x="22.700000000000003" y="315.7" font-size="6.8" font-weight="bold" text-anchor="end" fill="#000" stroke="#000" stroke-width="0.25">100</text>
<line x1="25.0" y1="343.2" x2="26.6" y2="343.2" stroke="#000" stroke-width="1.3"/>
<text x="22.700000000000003" y="345.59999999999997" font-size="6.8" font-weight="bold" text-anchor="end" fill="#000" stroke="#000" stroke-width="0.25">50</text>
<line x1="25.0" y1="373.4" x2="26.6" y2="373.4" stroke="#000" stroke-width="1.3"/>
<text x="22.700000000000003" y="375.79999999999995" font-size="6.8" font-weight="bold" text-anchor="end" fill="#000" stroke="#000" stroke-width="0.25">0</text>
<rect x="31.70" y="344.10" width="23.50" height="29.30" fill="#050505"/>
<line x1="43.45" y1="344.1" x2="43.45" y2="327.8" stroke="#000" stroke-width="1.4"/>
<line x1="37.95" y1="327.8" x2="48.95" y2="327.8" stroke="#000" stroke-width="1.4"/>
<rect x="65.30" y="315.10" width="23.50" height="58.30" fill="#a3a3a3"/>
<line x1="77.05" y1="315.1" x2="77.05" y2="314" stroke="#000" stroke-width="1.4"/>
<line x1="71.55" y1="314" x2="82.55" y2="314" stroke="#000" stroke-width="1.4"/>
<rect x="99.25" y="320.50" width="23.50" height="52.90" fill="#7a7a7a"/>
<line x1="111.0" y1="320.5" x2="111.0" y2="318" stroke="#000" stroke-width="1.4"/>
<line x1="105.5" y1="318" x2="116.5" y2="318" stroke="#000" stroke-width="1.4"/>
<rect x="133.15" y="333.80" width="23.50" height="39.60" fill="#d6d6d6"/>
<line x1="144.9" y1="333.8" x2="144.9" y2="312.7" stroke="#000" stroke-width="1.4"/>
<line x1="139.4" y1="312.7" x2="150.4" y2="312.7" stroke="#000" stroke-width="1.4"/>
<line x1="26.6" y1="373.4" x2="162" y2="373.4" stroke="#000" stroke-width="1.3"/>
<line x1="43.45" y1="373.4" x2="43.45" y2="375.4" stroke="#000" stroke-width="1.3"/>
<line x1="77.05" y1="373.4" x2="77.05" y2="375.4" stroke="#000" stroke-width="1.3"/>
<line x1="111.0" y1="373.4" x2="111.0" y2="375.4" stroke="#000" stroke-width="1.3"/>
<line x1="144.9" y1="373.4" x2="144.9" y2="375.4" stroke="#000" stroke-width="1.3"/>
<text x="44.85" y="382.0" font-size="6.8" font-weight="bold" text-anchor="end" fill="#000" transform="rotate(-45 44.85 382.0)" stroke="#000" stroke-width="0.25">US</text>
<text x="78.45" y="382.0" font-size="6.8" font-weight="bold" text-anchor="end" fill="#000" transform="rotate(-45 78.45 382.0)" stroke="#000" stroke-width="0.25">AM</text>
<text x="112.4" y="382.0" font-size="6.8" font-weight="bold" text-anchor="end" fill="#000" transform="rotate(-45 112.4 382.0)" stroke="#000" stroke-width="0.25">AM + Pb</text>
<text x="146.3" y="382.0" font-size="6.8" font-weight="bold" text-anchor="end" fill="#000" transform="rotate(-45 146.3 382.0)" stroke="#000" stroke-width="0.25">Pb</text>
<circle cx="78.10" cy="307.90" r="1.15" fill="#222"/>
<circle cx="112.10" cy="311.70" r="1.15" fill="#222"/>
</svg></body></html>
